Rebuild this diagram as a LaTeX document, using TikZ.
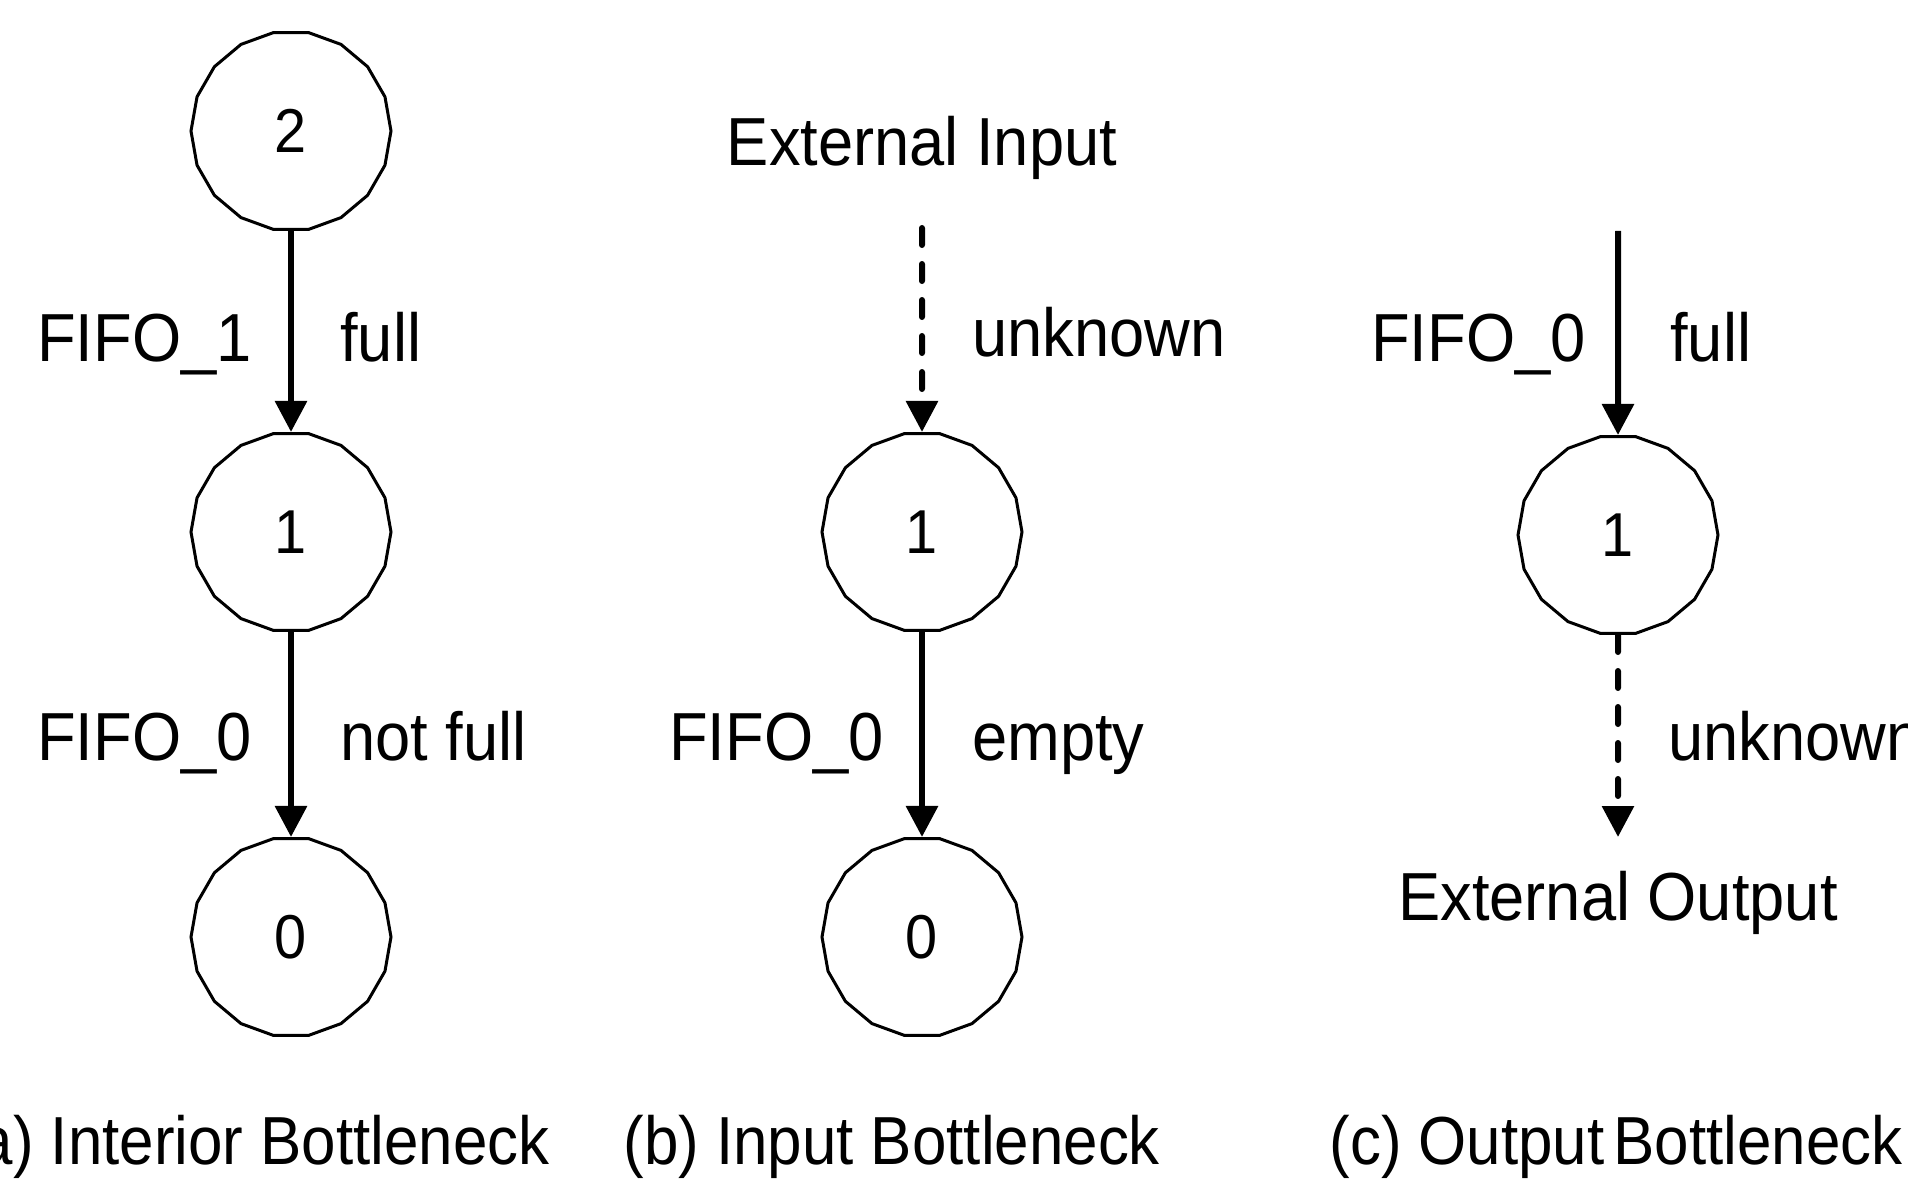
\documentclass[tikz,border=0pt]{standalone}
\usepackage{fontspec}
\setmainfont[FakeStretch=0.93]{Liberation Sans}
\newfontfamily\capfont[FakeStretch=0.91]{Liberation Sans}
\usetikzlibrary{arrows.meta,shapes.geometric}
\begin{document}
\begin{tikzpicture}[x=0.5pt,y=-0.5pt,
  stage/.style={draw, line width=1.5pt, regular polygon, regular polygon sides=18,
    minimum size=100pt, inner sep=0pt, font=\fontsize{31}{36}\selectfont},
  flow/.style={line width=3pt, -{Triangle[width=15.5pt,length=15.5pt]}},
  open/.style={flow, line cap=round, dash pattern=on 8.5pt off 9.5pt},
  lbl/.style={inner sep=0pt, font=\fontsize{34}{40}\selectfont},
  caption/.style={inner sep=0pt, font=\capfont\fontsize{34}{40}\selectfont},
]
\useasboundingbox (0,0) rectangle (1908,1188);
\clip (0,0) rectangle (1908,1188);

% (a) interior bottleneck
\node[stage] (a2) at (291,131) {2};
\node[stage] (a1) at (291,532) {1};
\node[stage] (a0) at (291,937) {0};
\draw[flow] (a2.south) -- (a1.north);
\draw[flow] (a1.south) -- (a0.north);
\node[lbl, anchor=base east] (a1l) at (252,361) {FIFO\_1};
\node[lbl, anchor=base west] (a1r) at (340,361) {full};
\node[lbl, anchor=base east] (a0l) at (252,760) {FIFO\_0};
\node[lbl, anchor=base west] (a0r) at (340,760) {not full};
\node[caption, anchor=base east] (capa) at (550,1164) {(a) Interior Bottleneck};

% (b) input bottleneck
\node[lbl, anchor=base] (extin) at (922,166) {External Input};
\coordinate (bin) at (922,228);
\node[stage] (b1) at (922,532) {1};
\node[stage] (b0) at (922,937) {0};
\draw[open] (bin) -- (b1.north);
\draw[flow] (b1.south) -- (b0.north);
\node[lbl, anchor=base west] (b1r) at (972,356) {unknown};
\node[lbl, anchor=base east] (b0l) at (884,760) {FIFO\_0};
\node[lbl, anchor=base west] (b0r) at (972,760) {empty};
\node[caption, anchor=base west] (capb) at (623,1164) {(b) Input Bottleneck};

% (c) output bottleneck
\coordinate (cin) at (1618,231);
\node[stage] (c1) at (1618,535) {1};
\coordinate (cout) at (1618,837);
\draw[flow] (cin) -- (c1.north);
\draw[open] (c1.south) -- (cout);
\node[lbl, anchor=base east] (c1l) at (1586,361) {FIFO\_0};
\node[lbl, anchor=base west] (c1r) at (1670,361) {full};
\node[lbl, anchor=base west] (c0r) at (1668,760) {unknown};
\node[lbl, anchor=base] (extout) at (1618,920) {External Output};
\node[caption, anchor=base east] (capc) at (1903,1164) {(c) Output\hspace{-0.12em} Bottleneck};
\end{tikzpicture}
\end{document}
